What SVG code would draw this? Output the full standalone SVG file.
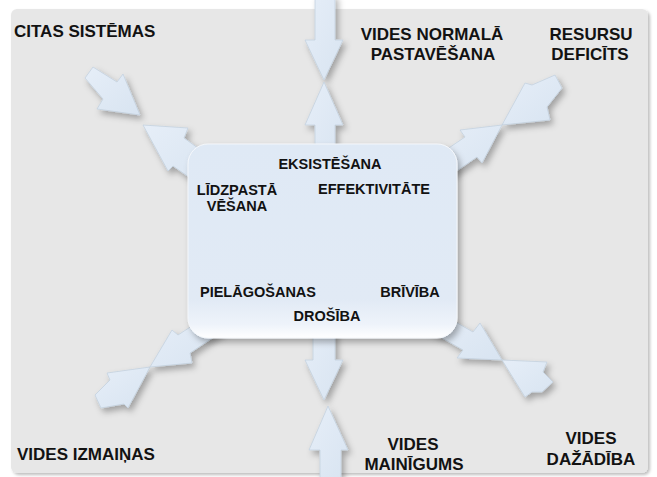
<svg xmlns="http://www.w3.org/2000/svg" width="657" height="477" viewBox="0 0 657 477">
<defs>
<style>
.lbl{font-family:"Liberation Sans",Arial,sans-serif;font-weight:bold;fill:#121212;text-anchor:middle}
.out{font-size:17px}
.in{font-size:14.5px}
.arr{fill:url(#ag);stroke:#c4d2e0;stroke-width:0.8;stroke-linejoin:round;filter:url(#sh)}
</style>
<linearGradient id="ag" x1="0" y1="0" x2="1" y2="1">
<stop offset="0" stop-color="#e6eef8"/>
<stop offset="1" stop-color="#d8e4f1"/>
</linearGradient>
<linearGradient id="bg" x1="0" y1="0" x2="0" y2="1">
<stop offset="0" stop-color="#dfe9f5"/>
<stop offset="0.8" stop-color="#e1eaf5"/>
<stop offset="0.93" stop-color="#eef3fa"/>
<stop offset="1" stop-color="#ffffff"/>
</linearGradient>
<filter id="sh" x="-30%" y="-30%" width="160%" height="160%">
<feDropShadow dx="3" dy="4" stdDeviation="3" flood-color="#000" flood-opacity="0.3"/>
</filter>
<filter id="psh" x="-5%" y="-5%" width="110%" height="110%">
<feDropShadow dx="2" dy="2" stdDeviation="1.5" flood-color="#000" flood-opacity="0.25"/>
</filter>
</defs>
<rect width="657" height="477" fill="#ffffff"/>
<rect x="11" y="9" width="637" height="464" rx="6" fill="#e7e7e7" filter="url(#psh)"/>

<g id="connectors">
<polygon class="arr" points="315,-5 335,-5 335,40 343,40 324,80 305,40 315,40"/>
<polygon class="arr" points="324,82 343,125 335,125 335,165 315,165 315,125 305,125"/>
<polygon class="arr" points="313,320 335,320 335,360 343,360 324,400 305,360 313,360"/>
<polygon class="arr" points="328,406 348,450 341,450 341,482 320,482 320,450 309,450"/>
<polygon class="arr" points="85,78 93,67 117,82 123,74 140,115 97,109 103,99"/>
<polygon class="arr" points="143,125 188,128 184,138 216,161 206,189 173,166 168,171"/>
<polygon class="arr" points="555,75 562,88 547,107 550,120 502,125 525,83 532,85"/>
<polygon class="arr" points="502,125 482,163 477,157 445,179 434,158 465,137 460,130"/>
<polygon class="arr" points="150,367 128,408 124,404 101,408 95,395 110,380 107,373"/>
<polygon class="arr" points="150,367 172,330 178,335 212,313 223,331 190,353 192,363"/>
<polygon class="arr" points="502,360 480,323 473,332 438,312 428,330 463,350 457,358"/>
<polygon class="arr" points="502,360 547,362 543,372 553,382 542,392 532,392 525,397"/>
</g>

<g id="center">
<rect x="188" y="144" width="269" height="194" rx="20" fill="url(#bg)" stroke="#f4f7fb" stroke-width="1" filter="url(#sh)"/>
<text class="lbl in" x="330" y="169">EKSISTĒŠANA</text>
<text class="lbl in" x="237" y="195">LĪDZPASTĀ</text>
<text class="lbl in" x="237" y="211">VĒŠANA</text>
<text class="lbl in" x="374" y="194">EFFEKTIVITĀTE</text>
<text class="lbl in" x="258" y="297">PIELĀGOŠANAS</text>
<text class="lbl in" x="410" y="297">BRĪVĪBA</text>
<text class="lbl in" x="327" y="321">DROŠĪBA</text>
</g>

<g id="citas-sistemas"><text class="lbl out" x="14" y="37" style="text-anchor:start">CITAS SISTĒMAS</text></g>
<g id="vides-normala"><text class="lbl out" x="432" y="40">VIDES NORMALĀ</text><text class="lbl out" x="433" y="60">PASTAVĒŠANA</text></g>
<g id="resursu-deficits"><text class="lbl out" x="591" y="40">RESURSU</text><text class="lbl out" x="590" y="60">DEFICĪTS</text></g>
<g id="vides-izmainas"><text class="lbl out" x="17" y="460" style="text-anchor:start">VIDES IZMAIŅAS</text></g>
<g id="vides-mainigums"><text class="lbl out" x="413" y="450">VIDES</text><text class="lbl out" x="414" y="470">MAINĪGUMS</text></g>
<g id="vides-dazadiba"><text class="lbl out" x="591" y="444">VIDES</text><text class="lbl out" x="591" y="465">DAŽĀDĪBA</text></g>
</svg>
